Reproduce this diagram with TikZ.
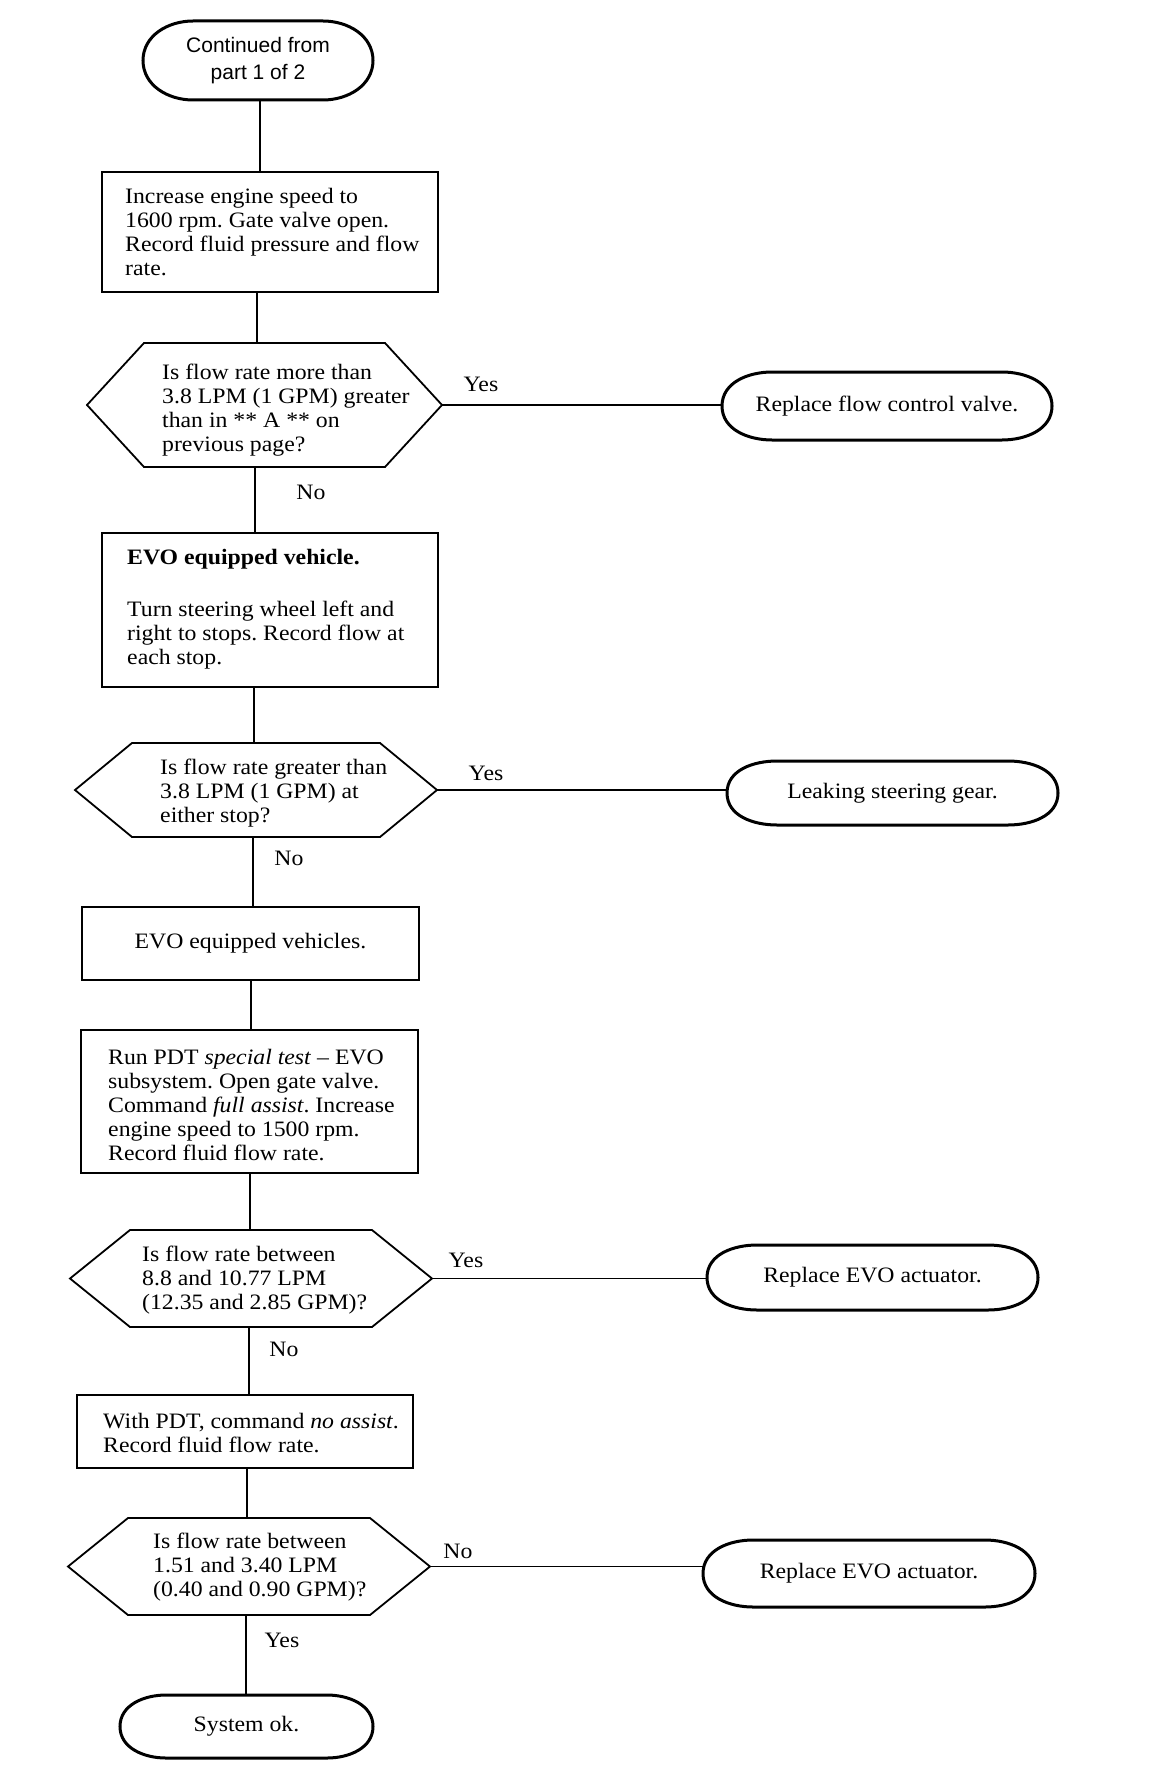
\documentclass[tikz,border=0pt]{standalone}
\usepackage{fontspec}
\setmainfont{Liberation Serif}[FakeStretch=1.08]
\newfontfamily\sansfam{Liberation Sans}
\usetikzlibrary{calc}
\frenchspacing

\newcommand{\termdraw}[2]{\draw[termline] ([xshift=#2]#1.north west) -- ([xshift=-#2]#1.north east) to[out=0,in=90] (#1.east) to[out=-90,in=0] ([xshift=-#2]#1.south east) -- ([xshift=#2]#1.south west) to[out=180,in=-90] (#1.west) to[out=90,in=180] ([xshift=#2]#1.north west) -- cycle;}
\newcommand{\hexdraw}[2]{\draw[boxline] ([xshift=#2]#1.north west) -- ([xshift=-#2]#1.north east) -- (#1.east) -- ([xshift=-#2]#1.south east) -- ([xshift=#2]#1.south west) -- (#1.west) -- cycle;}

\tikzset{
  conn/.style={line width=1.6pt},
  boxline/.style={line width=1.8pt, line join=miter},
  termline/.style={line width=3pt},
  stepbox/.style={draw, line width=1.8pt, inner sep=0pt, outer sep=0pt},
  shapebox/.style={inner sep=0pt, outer sep=0pt},
  txt/.style={align=left, inner sep=0pt, font=\fontsize{22}{24}\selectfont},
  lbl/.style={inner sep=0pt, font=\fontsize{22}{24}\selectfont},
}

\begin{document}
\begin{tikzpicture}[x=1pt,y=1pt]
\fill[white] (0,0) rectangle (1168,-1768);
\useasboundingbox (0,0) rectangle (1168,-1768);

% ---- start terminator
\node[shapebox, minimum width=230pt, minimum height=79pt, align=center,
      font=\sansfam\fontsize{21}{27}\selectfont] (s0) at (258,-60.5) {Continued from\\part 1 of 2};
\termdraw{s0}{50pt}

% ---- box 1
\node[stepbox, minimum width=336pt, minimum height=120pt] (b1) at (270,-232) {};
\node[txt, anchor=west] (b1t) at (125,-232) {Increase engine speed to\\1600 rpm. Gate valve open.\\Record fluid pressure and flow\\rate.};

% ---- decision 1
\node[shapebox, minimum width=355pt, minimum height=124pt] (d1) at (264.5,-405) {};
\hexdraw{d1}{57pt}
\node[txt, anchor=west] (d1t) at (162,-410) {Is flow rate more than\\3.8 LPM (1 GPM) greater\\than in ** A ** on\\previous page?};

\node[shapebox, minimum width=330pt, minimum height=68pt, font=\fontsize{22}{24}\selectfont] (t1) at (887,-406) {Replace flow control valve.};
\termdraw{t1}{50pt}

% ---- box 2
\node[stepbox, minimum width=336pt, minimum height=154pt] (b2) at (270,-610) {};
\node[txt, anchor=west] (b2t) at (127,-609) {\textbf{EVO equipped vehicle.}\\[28pt]Turn steering wheel left and\\right to stops. Record flow at\\each stop.};

% ---- decision 2
\node[shapebox, minimum width=362pt, minimum height=94pt] (d2) at (256,-790) {};
\hexdraw{d2}{57pt}
\node[txt, anchor=west] (d2t) at (160,-793) {Is flow rate greater than\\3.8 LPM (1 GPM) at\\either stop?};

\node[shapebox, minimum width=331pt, minimum height=64pt, font=\fontsize{22}{24}\selectfont] (t2) at (892.5,-793) {Leaking steering gear.};
\termdraw{t2}{50pt}

% ---- box 3
\node[stepbox, minimum width=337pt, minimum height=73pt, font=\fontsize{22}{24}\selectfont] (b3) at (250.5,-943.5) {EVO equipped vehicles.};

% ---- box 4
\node[stepbox, minimum width=337pt, minimum height=143pt] (b4) at (249.5,-1101.5) {};
\node[txt, anchor=west] (b4t) at (108,-1105) {Run PDT \textit{special test} -- EVO\\subsystem. Open gate valve.\\Command \textit{full assist}. Increase\\engine speed to 1500 rpm.\\Record fluid flow rate.};

% ---- decision 3
\node[shapebox, minimum width=362pt, minimum height=97pt] (d3) at (251,-1278.5) {};
\hexdraw{d3}{60pt}
\node[txt, anchor=west] (d3t) at (142,-1280) {Is flow rate between\\8.8 and 10.77 LPM\\(12.35 and 2.85 GPM)?};

\node[shapebox, minimum width=331pt, minimum height=65pt, font=\fontsize{22}{24}\selectfont] (t3) at (872.5,-1277.5) {Replace EVO actuator.};
\termdraw{t3}{50pt}

% ---- box 5
\node[stepbox, minimum width=336pt, minimum height=73pt] (b5) at (245,-1431.5) {};
\node[txt, anchor=west] (b5t) at (103,-1433.5) {With PDT, command \textit{no assist}.\\Record fluid flow rate.};

% ---- decision 4
\node[shapebox, minimum width=362pt, minimum height=97pt] (d4) at (249,-1566.5) {};
\hexdraw{d4}{60pt}
\node[txt, anchor=west] (d4t) at (153,-1567.5) {Is flow rate between\\1.51 and 3.40 LPM\\(0.40 and 0.90 GPM)?};

\node[shapebox, minimum width=332pt, minimum height=67pt, font=\fontsize{22}{24}\selectfont] (t4) at (869,-1573.5) {Replace EVO actuator.};
\termdraw{t4}{50pt}

% ---- end terminator
\node[shapebox, minimum width=253pt, minimum height=63pt, font=\fontsize{22}{24}\selectfont] (t5) at (246.5,-1726.5) {System ok.};
\termdraw{t5}{46pt}

% ---- vertical connector x positions
\coordinate (x1) at (260,0);
\coordinate (x2) at (257,0);
\coordinate (x3) at (255,0);
\coordinate (x4) at (254,0);
\coordinate (x5) at (253,0);
\coordinate (x6) at (251,0);
\coordinate (x7) at (250,0);
\coordinate (x8) at (249,0);
\coordinate (x9) at (247,0);
\coordinate (x10) at (246,0);

\draw[conn] (s0.south -| x1) -- (b1.north -| x1);
\draw[conn] (b1.south -| x2) -- (d1.north -| x2);
\draw[conn] (d1.south -| x3) -- (b2.north -| x3);
\draw[conn] (b2.south -| x4) -- (d2.north -| x4);
\draw[conn] (d2.south -| x5) -- (b3.north -| x5);
\draw[conn] (b3.south -| x6) -- (b4.north -| x6);
\draw[conn] (b4.south -| x7) -- (d3.north -| x7);
\draw[conn] (d3.south -| x8) -- (b5.north -| x8);
\draw[conn] (b5.south -| x9) -- (d4.north -| x9);
\draw[conn] (d4.south -| x10) -- (t5.north -| x10);

% ---- horizontal connectors
\draw[conn] (d1.east) -- (d1.east -| t1.west);
\draw[conn] (d2.east) -- (d2.east -| t2.west);
\draw[conn] (d3.east) -- (d3.east -| t3.west);
\draw[conn] (d4.east) -- (d4.east -| t4.west);

% ---- labels
\node[lbl] (l1y) at (481,-384) {Yes};
\node[lbl] (l1n) at (311,-492) {No};
\node[lbl] (l2y) at (486,-773) {Yes};
\node[lbl] (l2n) at (289,-858) {No};
\node[lbl] (l3y) at (466,-1260) {Yes};
\node[lbl] (l3n) at (284,-1349) {No};
\node[lbl] (l4n) at (458,-1551) {No};
\node[lbl] (l4y) at (282,-1640) {Yes};
\end{tikzpicture}
\end{document}
